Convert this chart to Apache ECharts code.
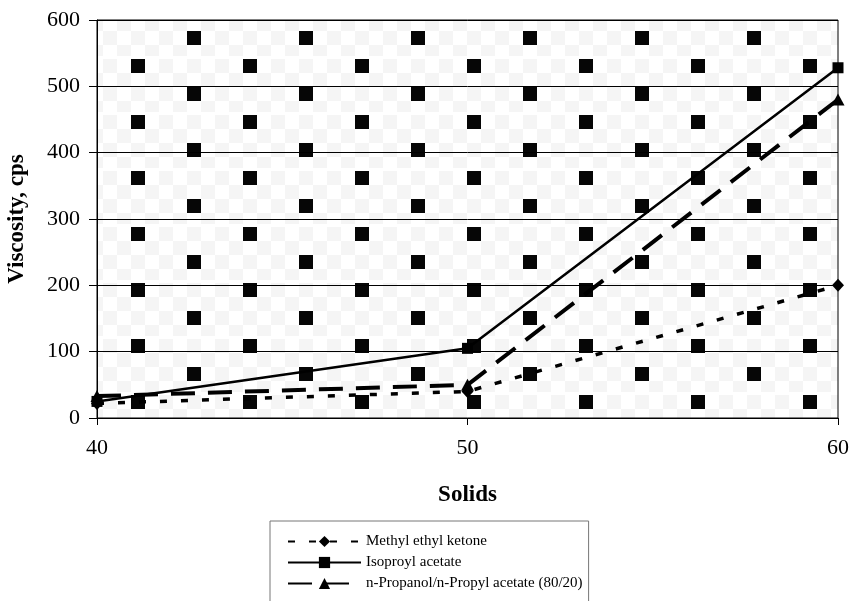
<!DOCTYPE html>
<html>
<head>
<meta charset="utf-8">
<script src="https://cdn.jsdelivr.net/npm/echarts@6/dist/echarts.min.js"></script>
<style>html,body{margin:0;padding:0;background:#fff;}#c{width:852px;height:601px;}</style>
</head>
<body>
<div id="c"></div>
<script>
var seriesNames = ['Methyl ethyl ketone', 'Isoproyl acetate', 'n-Propanol/n-Propyl acetate (80/20)'];
var solids = [40, 50, 60];
var mekValues = [22, 40, 200];
var ipaValues = [25, 105, 528];
var npValues = [33, 50, 480];
var yTicks = [0, 100, 200, 300, 400, 500, 600];

function pairs(xs, ys) { return xs.map(function (x, i) { return [x, ys[i]]; }); }

// background fill pattern (plot area texture)
var tile = document.createElement('canvas');
tile.width = 112; tile.height = 56;
var g = tile.getContext('2d');
g.fillStyle = '#ffffff'; g.fillRect(0, 0, 112, 56);
g.fillStyle = '#f5f5f5';
for (var r = 0; r < 4; r++) {
  for (var c = 0; c < 8; c++) {
    if ((r + c) % 2 === 1) {
      var cx = 5 + 14 * c, cy = 3 + 14 * r;
      g.fillRect(cx, cy, 14, 14);
      if (cx + 14 > 112) g.fillRect(cx - 112, cy, 14, 14);
    }
  }
}
g.fillStyle = '#060606';
g.fillRect(19, 3, 14, 14);
g.fillRect(75, 31, 14, 14);

var font = 'Liberation Serif, Times New Roman, serif';
var chart = echarts.init(document.getElementById('c'), null, { renderer: 'canvas' });
chart.setOption({
  animation: false,
  backgroundColor: '#ffffff',
  grid: {
    left: 97, right: 14, top: 20, bottom: 183,
    containLabel: false,
    outerBoundsMode: 'none',
    show: true,
    backgroundColor: { image: tile, repeat: 'repeat' },
    borderColor: '#000', borderWidth: 1
  },
  legend: {
    orient: 'vertical',
    left: 270, top: 521,
    height: 200,
    padding: [13, 6, 12, 17],
    itemGap: 6,
    itemWidth: 73, itemHeight: 14,
    borderColor: '#777', borderWidth: 1,
    backgroundColor: '#fff',
    textStyle: { fontFamily: font, fontSize: 15, color: '#000' },
    data: seriesNames
  },
  xAxis: {
    type: 'value', min: 40, max: 60, interval: 10,
    name: 'Solids', nameLocation: 'middle', nameGap: 66,
    nameTextStyle: { fontFamily: font, fontSize: 23, fontWeight: 'bold', color: '#000' },
    axisLine: { show: true, lineStyle: { color: '#000', width: 1 } },
    axisTick: { show: true, length: 7, lineStyle: { color: '#000' } },
    axisLabel: { margin: 19, fontFamily: font, fontSize: 22, color: '#000' },
    splitLine: { show: false }
  },
  yAxis: {
    type: 'value', min: 0, max: 600, interval: 100,
    name: 'Viscosity, cps', nameLocation: 'middle', nameGap: 68,
    nameTextStyle: { fontFamily: font, fontSize: 23, fontWeight: 'bold', color: '#000' },
    axisLine: { show: true, lineStyle: { color: '#000', width: 1 } },
    axisTick: { show: true, length: 8, lineStyle: { color: '#000' } },
    axisLabel: {
      margin: 17, fontFamily: font, fontSize: 22, color: '#000',
      formatter: function (v) { return yTicks.indexOf(v) >= 0 ? String(v) : ''; }
    },
    splitLine: { show: true, lineStyle: { color: '#000', width: 1 } }
  },
  series: [
    {
      name: seriesNames[0], type: 'line', data: pairs(solids, mekValues),
      symbol: 'diamond', symbolSize: [12, 13], showSymbol: true,
      itemStyle: { color: '#000' },
      lineStyle: { color: '#000', width: 3.5, type: [7, 14] }
    },
    {
      name: seriesNames[1], type: 'line', data: pairs(solids, ipaValues),
      symbol: 'rect', symbolSize: 11,
      itemStyle: { color: '#000' },
      lineStyle: { color: '#000', width: 2.5, type: 'solid' }
    },
    {
      name: seriesNames[2], type: 'line', data: pairs(solids, npValues),
      symbol: 'triangle', symbolSize: [13, 12],
      itemStyle: { color: '#000' },
      lineStyle: { color: '#000', width: 4, type: [24, 13] }
    }
  ]
});
</script>
</body>
</html>
